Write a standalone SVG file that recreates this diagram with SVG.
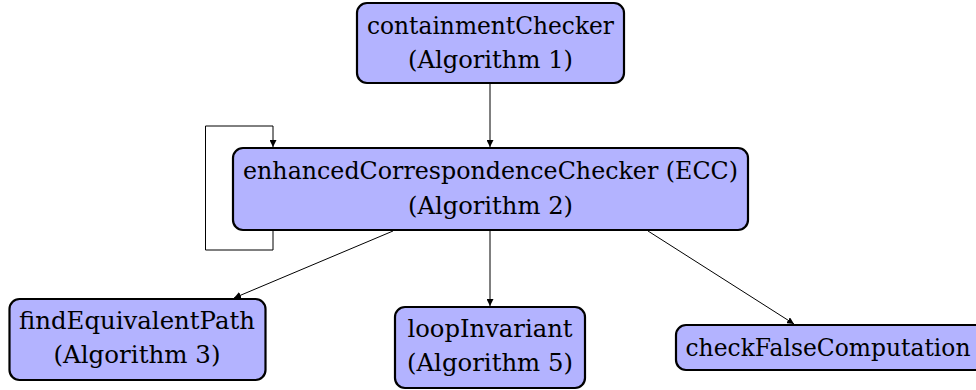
<svg xmlns="http://www.w3.org/2000/svg" width="976" height="390" viewBox="0 0 976 390">
<style>
.node rect{fill:#B3B3FF;stroke:#000;stroke-width:2.2}
.node text{font-family:"DejaVu Serif","Liberation Serif",serif;font-size:24.5px;fill:#000;text-anchor:middle}
.edge{fill:none;stroke:#000;stroke-width:1}
</style>
<defs>
<marker id="arr" viewBox="0 0 10 10" refX="10" refY="5" markerWidth="7" markerHeight="7" markerUnits="userSpaceOnUse" orient="auto">
<path d="M0,0 L10,5 L0,10 z" fill="#000"/>
</marker>
</defs>
<g id="connectors">
<line class="edge" x1="490" y1="84" x2="490" y2="147" marker-end="url(#arr)"/>
<line class="edge" x1="490" y1="231" x2="490" y2="306" marker-end="url(#arr)"/>
<line class="edge" x1="393" y1="231" x2="234" y2="298" marker-end="url(#arr)"/>
<line class="edge" x1="648" y1="231" x2="794" y2="324" marker-end="url(#arr)"/>
<path class="edge" d="M273,231 V250 H205.5 V126 H273 V147" marker-end="url(#arr)"/>
</g>
<g id="containmentChecker" class="node">
<rect x="357" y="3" width="267" height="80" rx="10"/>
<text x="490.5" y="34" textLength="247" lengthAdjust="spacingAndGlyphs">containmentChecker</text>
<text x="490.5" y="68" textLength="165" lengthAdjust="spacingAndGlyphs">(Algorithm 1)</text>
</g>
<g id="ECC" class="node">
<rect x="233" y="148" width="515" height="82" rx="10"/>
<text x="490.5" y="179" textLength="495" lengthAdjust="spacingAndGlyphs">enhancedCorrespondenceChecker (ECC)</text>
<text x="490.5" y="214" textLength="165" lengthAdjust="spacingAndGlyphs">(Algorithm 2)</text>
</g>
<g id="findEquivalentPath" class="node">
<rect x="9.5" y="299" width="256" height="81" rx="10"/>
<text x="137" y="329" textLength="236" lengthAdjust="spacingAndGlyphs">findEquivalentPath</text>
<text x="137" y="363" textLength="167" lengthAdjust="spacingAndGlyphs">(Algorithm 3)</text>
</g>
<g id="loopInvariant" class="node">
<rect x="395" y="307" width="190" height="81" rx="10"/>
<text x="490" y="337" textLength="165" lengthAdjust="spacingAndGlyphs">loopInvariant</text>
<text x="490" y="371" textLength="166" lengthAdjust="spacingAndGlyphs">(Algorithm 5)</text>
</g>
<g id="checkFalseComputation" class="node">
<rect x="676" y="325" width="312" height="45" rx="10"/>
<text x="828" y="356" textLength="285" lengthAdjust="spacingAndGlyphs">checkFalseComputation</text>
</g>
</svg>
